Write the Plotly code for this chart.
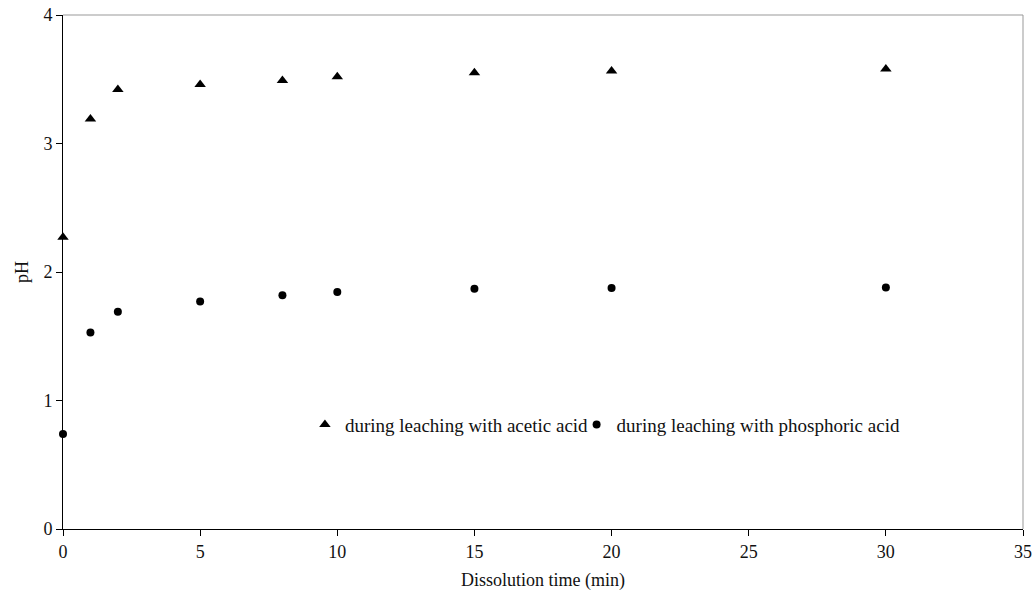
import plotly.graph_objects as go

time_min = [0, 1, 2, 5, 8, 10, 15, 20, 30]
ph_acetic = [2.27, 3.19, 3.42, 3.46, 3.49, 3.52, 3.55, 3.565, 3.58]
ph_phosphoric = [0.74, 1.53, 1.69, 1.77, 1.82, 1.845, 1.87, 1.875, 1.88]

fig = go.Figure()
fig.add_trace(go.Scatter(x=time_min, y=ph_acetic, mode="markers",
                         name="during leaching with acetic acid",
                         marker=dict(symbol="triangle-up", size=10, color="black"),
                         cliponaxis=False, legend="legend"))
fig.add_trace(go.Scatter(x=time_min, y=ph_phosphoric, mode="markers",
                         name="during leaching with phosphoric acid",
                         marker=dict(symbol="circle", size=8, color="black"),
                         cliponaxis=False, legend="legend2"))

font = dict(family="Liberation Serif, Times New Roman, serif", size=18, color="#111")
leg_common = dict(orientation="h", y=0.203, xanchor="left", yanchor="middle",
                  bgcolor="rgba(0,0,0,0)", font=dict(size=19), itemwidth=30)
fig.update_layout(
    width=1034, height=598,
    margin=dict(l=63, r=11, t=15, b=69),
    plot_bgcolor="white", paper_bgcolor="white",
    font=font,
    showlegend=True,
    legend=dict(x=0.252, **leg_common),
    legend2=dict(x=0.535, **leg_common),
    xaxis=dict(range=[0, 35], tickvals=[0, 5, 10, 15, 20, 25, 30, 35],
               showgrid=False, zeroline=False, showline=True, linecolor="black",
               linewidth=1, ticks="outside", ticklen=6, tickcolor="black",
               mirror=False, automargin=False, tickfont=dict(size=18),
               title=dict(text="Dissolution time (min)", standoff=12, font=dict(size=18))),
    yaxis=dict(range=[0, 4], tickvals=[0, 1, 2, 3, 4],
               showgrid=False, zeroline=False, showline=True, linecolor="black",
               linewidth=1, ticks="outside", ticklen=6, tickcolor="black",
               automargin=False, tickfont=dict(size=18),
               title=dict(text="pH", standoff=10, font=dict(size=18))),
)
# top and right gray border
fig.add_shape(type="line", xref="paper", yref="paper", x0=0, x1=1, y0=1, y1=1,
              line=dict(color="#999", width=1))
fig.add_shape(type="line", xref="paper", yref="paper", x0=1, x1=1, y0=0, y1=1,
              line=dict(color="#999", width=1))
fig.write_html("out.html")
